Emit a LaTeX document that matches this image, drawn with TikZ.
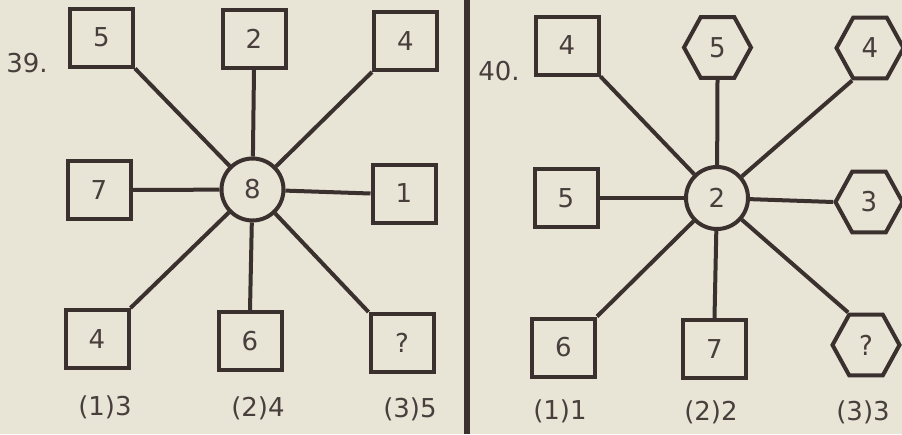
\documentclass[tikz,border=0pt]{standalone}
\usepackage{fontspec}
\setmainfont{DejaVu Sans}
\usetikzlibrary{shapes.geometric}
\definecolor{inkc}{RGB}{58,48,46}
\definecolor{txtc}{RGB}{72,62,60}
\definecolor{bgc}{RGB}{232,228,214}
\begin{document}
\begin{tikzpicture}[x=1pt,y=-1pt,
  ink/.style={draw=inkc, line width=4pt},
  numtxt/.style={text=txtc, font=\fontsize{26}{26}\selectfont},
  sq/.style={ink, numtxt, rectangle, minimum width=63pt, minimum height=58pt, inner sep=0pt},
  hex/.style={ink, numtxt, regular polygon, regular polygon sides=6, minimum size=67pt, inner sep=0pt, yscale=1.05},
  ctr/.style={ink, numtxt, circle, minimum size=62pt, inner sep=0pt},
  lbl/.style={numtxt, inner sep=0pt},
  conn/.style={draw=inkc, line width=4pt}]
\useasboundingbox (0,0) rectangle (902,434);
\clip (0,0) rectangle (902,434);
\fill[bgc] (0,0) rectangle (902,434);
% divider
\draw[inkc, line width=6pt] (466.5,0) -- (466.5,434);

% ---------- 39 ----------
\node[lbl] (q39) at (27,63) {39.};
\node[ctr] (c1) at (252.5,189.5) {8};
\node[sq] (b5) at (101.5,37.5) {5};
\node[sq] (b2) at (254,39) {2};
\node[sq] (b4a) at (405.5,41) {4};
\node[sq] (b7) at (99,190) {7};
\node[sq] (b1) at (404,193.5) {1};
\node[sq] (b4b) at (97,339) {4};
\node[sq] (b6) at (250,341) {6};
\node[sq] (bq) at (402,343) {?};
\draw[conn] (c1) -- (b5.south east);
\draw[conn] (c1) -- (b2.south);
\draw[conn] (c1) -- (b4a.south west);
\draw[conn] (c1) -- (b7.east);
\draw[conn] (c1) -- (b1.west);
\draw[conn] (c1) -- (b4b.north east);
\draw[conn] (c1) -- (b6.north);
\draw[conn] (c1) -- (bq.north west);
\node[lbl] (a1) at (105,407) {(1)3};
\node[lbl] (a2) at (258,408) {(2)4};
\node[lbl] (a3) at (410,409) {(3)5};

% ---------- 40 ----------
\node[lbl] (q40) at (499,71) {40.};
\node[ctr] (c2) at (717,198) {2};
\node[sq] (s4) at (567,45.5) {4};
\node[hex] (h5) at (717.5,47.5) {5};
\node[hex] (h4) at (870,48) {4};
\node[sq] (s5) at (566,198) {5};
\node[hex] (h3) at (869,202) {3};
\node[sq] (s6) at (563.5,347.5) {6};
\node[sq] (s7) at (714.5,349) {7};
\node[hex] (hq) at (866,345) {?};
\draw[conn] (c2) -- (s4.south east);
\draw[conn] (c2) -- (h5.south);
\draw[conn] (c2) -- (h4.240);
\draw[conn] (c2) -- (s5.east);
\draw[conn] (c2) -- (h3.180);
\draw[conn] (c2) -- (s6.north east);
\draw[conn] (c2) -- (s7.north);
\draw[conn] (c2) -- (hq.120);
\node[lbl] (b1l) at (560,411) {(1)1};
\node[lbl] (b2l) at (711,412) {(2)2};
\node[lbl] (b3l) at (863,412) {(3)3};
\end{tikzpicture}
\end{document}
